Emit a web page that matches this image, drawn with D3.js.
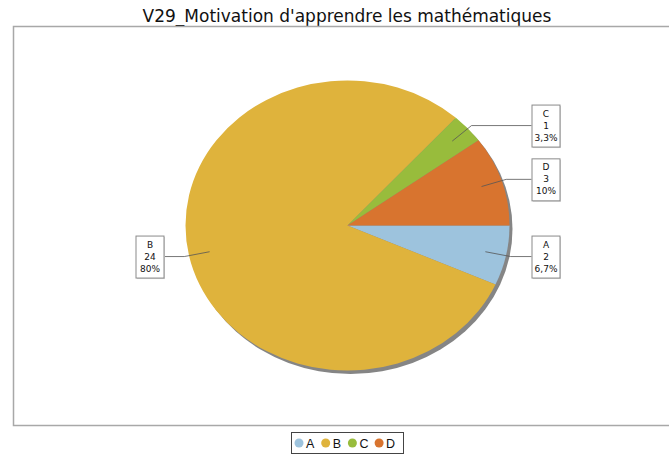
<!DOCTYPE html>
<html>
<head>
<meta charset="utf-8">
<script src="https://cdn.jsdelivr.net/npm/d3@7"></script>
<style>
  html, body { margin: 0; padding: 0; background: #fff; }
  svg { display: block; }
</style>
</head>
<body>
<svg id="chart" width="669" height="455"></svg>
<script>
// Categories and counts for the pie
const categories = ["A", "B", "C", "D"];
const counts = [2, 24, 1, 3];
const colors = ["#9dc3dd", "#dfb33c", "#98bc3c", "#d8742f"];
const title = "V29_Motivation d'apprendre les mathématiques";

const W = 669, H = 455;
const svg = d3.select("#chart");

// Title
svg.append("text")
  .attr("x", 347).attr("y", 22)
  .attr("text-anchor", "middle")
  .attr("font-family", "DejaVu Sans, Verdana, sans-serif")
  .attr("font-size", 17)
  .attr("fill", "#111")
  .text(title);

// Plot frame
svg.append("rect")
  .attr("x", 13.5).attr("y", 26.5)
  .attr("width", 670).attr("height", 399)
  .attr("fill", "#fff")
  .attr("stroke", "#a8a8a8").attr("stroke-width", 1.5);

// Elliptical pie geometry
const cx = 347.5, cy = 225.5, rx = 162, ry = 145;
const sx = rx / ry;

const data = categories.map((c, i) => ({ cat: c, value: counts[i], color: colors[i] }));
const total = d3.sum(counts);

const pie = d3.pie()
  .value(d => d.value)
  .sort(null)
  .startAngle(Math.PI / 2)
  .endAngle(Math.PI / 2 + 2 * Math.PI);
const arcs = pie(data);

const arc = d3.arc().innerRadius(0).outerRadius(ry);

// Drop shadow
svg.append("ellipse")
  .attr("cx", cx + 3).attr("cy", cy + 3.5)
  .attr("rx", rx).attr("ry", ry)
  .attr("fill", "#858585");

const g = svg.append("g")
  .attr("transform", `translate(${cx},${cy}) scale(${sx},1)`);

g.selectAll("path.slice")
  .data(arcs)
  .join("path")
  .attr("class", "slice")
  .attr("d", arc)
  .attr("fill", d => d.data.color);

// Label boxes with leader lines
const fmtPct = v => {
  const p = v / total * 100;
  const s = Math.abs(p - Math.round(p)) < 1e-9
    ? d3.format(".0f")(p)
    : d3.format(".1f")(p);
  return s.replace(".", ",") + "%";
};

const labels = svg.append("g")
  .attr("font-family", "DejaVu Sans, Verdana, sans-serif")
  .attr("font-size", 9)
  .attr("fill", "#111");

const boxW = 28, boxH = 42, gap = 22;

arcs.forEach(a => {
  const mid = (a.startAngle + a.endAngle) / 2;
  const ux = Math.sin(mid), uy = -Math.cos(mid);
  const p1 = [cx + ux * rx * 0.87, cy + uy * ry * 0.87];
  const p2 = [cx + ux * rx * 1.03, cy + uy * ry * 1.03];
  const right = ux >= 0;
  const bx = right ? cx + rx + gap : cx - rx - gap - boxW;
  const edgeX = right ? bx : bx + boxW;

  labels.append("polyline")
    .attr("points", [p1, p2, [edgeX, p2[1]]].map(p => p.join(",")).join(" "))
    .attr("fill", "none")
    .attr("stroke", "#555")
    .attr("stroke-width", 0.8);

  const by = p2[1] - boxH / 2;
  labels.append("rect")
    .attr("x", bx + 1.5).attr("y", by + 1.5)
    .attr("width", boxW).attr("height", boxH)
    .attr("fill", "#d8d8d8");
  labels.append("rect")
    .attr("x", bx + 0.5).attr("y", by + 0.5)
    .attr("width", boxW).attr("height", boxH)
    .attr("fill", "#fff")
    .attr("stroke", "#8a8a8a").attr("stroke-width", 1);

  const lines = [a.data.cat, String(a.data.value), fmtPct(a.data.value)];
  lines.forEach((t, i) => {
    labels.append("text")
      .attr("x", bx + boxW / 2 + 0.5)
      .attr("y", by + 12 + i * 12)
      .attr("text-anchor", "middle")
      .text(t);
  });
});

// Legend
const legX = 291, legY = 432, legW = 112, legH = 21;
const leg = svg.append("g");
leg.append("rect")
  .attr("x", legX + 0.5).attr("y", legY + 0.5)
  .attr("width", legW).attr("height", legH)
  .attr("fill", "#fff")
  .attr("stroke", "#444").attr("stroke-width", 1);

const legItem = leg.selectAll("g.item")
  .data(data)
  .join("g")
  .attr("class", "item")
  .attr("transform", (d, i) => `translate(${legX + 8 + i * 26.7},${legY + 11})`);

legItem.append("circle")
  .attr("r", 4.5)
  .attr("fill", d => d.color);
legItem.append("text")
  .attr("x", 7).attr("y", 4.5)
  .attr("font-family", "Liberation Sans, Arial, sans-serif")
  .attr("font-size", 12.5)
  .attr("fill", "#111")
  .text(d => d.cat);
</script>
</body>
</html>
